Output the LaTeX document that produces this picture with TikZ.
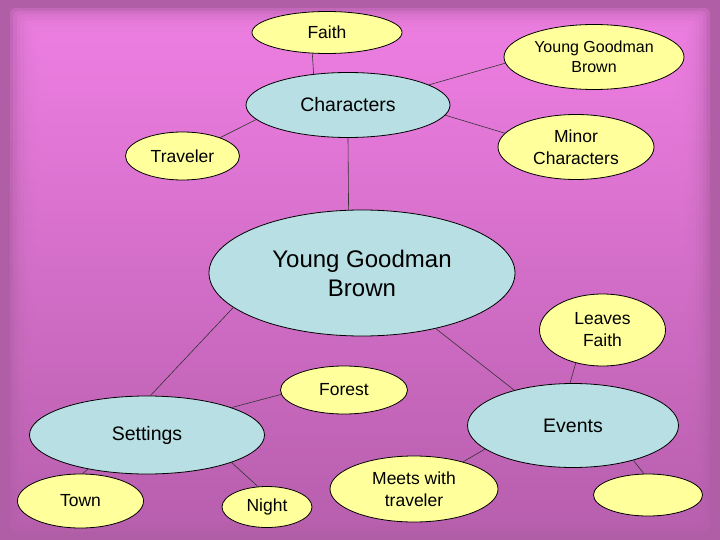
\documentclass[tikz,border=0pt]{standalone}
\usepackage{fontspec}
\setmainfont{Liberation Sans}
\usetikzlibrary{shapes.geometric}
\definecolor{frame}{HTML}{B05EA6}
\definecolor{pinktop}{HTML}{F080E4}
\definecolor{pinkbot}{HTML}{BC62B2}
\definecolor{bubyel}{HTML}{FFFF9C}
\definecolor{bubblue}{HTML}{B8DFE3}
\begin{document}
\begin{tikzpicture}[x=1pt, y=-1pt,
    bub/.style ={draw=black, line width=0.8pt, ellipse, inner sep=0pt, align=center},
    ybub/.style={bub, fill=bubyel, font=\fontsize{17.5}{22}\selectfont},
    bbub/.style={bub, fill=bubblue, font=\fontsize{19.5}{24}\selectfont},
    link/.style={draw=black!80, line width=0.6pt},
  ]
  \useasboundingbox (0,0) rectangle (720,540);
  % background frame
  \fill[frame] (0,0) rectangle (720,540);
  \foreach \i in {0,...,9}{
    \shade[top color=pinktop, bottom color=pinkbot, opacity=0.3, rounded corners=5pt]
      ({10+3.5*\i},{8+3*\i}) rectangle ({710-3.5*\i},{532-3*\i});
  }
  % characters branch
  \node[bbub, minimum width=204, minimum height=65] (chars) at (348,105) {Characters};
  \node[ybub, minimum width=150, minimum height=42] (faith) at (327,32.5) {Faith};
  \node[ybub, minimum width=180, minimum height=65, font=\fontsize{16}{20}\selectfont] (ygbtop) at (594,57) {Young Goodman\\Brown};
  \node[ybub, minimum width=156, minimum height=65] (minor) at (576,147) {Minor\\Characters};
  \node[ybub, minimum width=114, minimum height=48] (trav) at (182.5,156) {Traveler};
  % centre
  \node[bbub, minimum width=306, minimum height=126, font=\fontsize{24}{29}\selectfont] (ygb) at (362,273) {Young Goodman\\Brown};
  % settings branch
  \node[bbub, minimum width=235, minimum height=78] (set) at (147,435) {Settings};
  \node[ybub, minimum width=127, minimum height=48] (forest) at (344,390) {Forest};
  \node[ybub, minimum width=126, minimum height=54] (town) at (80.5,501) {Town};
  \node[ybub, minimum width=90, minimum height=41] (night) at (267,507) {Night};
  % events branch
  \node[bbub, minimum width=211, minimum height=84] (events) at (573,425.5) {Events};
  \node[ybub, minimum width=126, minimum height=72] (leaves) at (602.5,330) {Leaves\\Faith};
  \node[ybub, minimum width=168, minimum height=66] (meets) at (414,489) {Meets with\\traveler};
  \node[ybub, minimum width=109, minimum height=42] (blank) at (648,495) {};
  % links
  \draw[link] (faith.235) -- (chars.138);
  \draw[link] (chars.14) -- (ygbtop.184);
  \draw[link] (chars.354) -- (minor.169);
  \draw[link] (chars.189) -- (trav.26);
  \draw[link] (chars.south) -- (ygb.102.5);
  \draw[link] (ygb.195) -- (set.85);
  \draw[link] (ygb.323) -- (events.149);
  \draw[link] (forest.184.5) -- (set.18);
  \draw[link] (leaves.231) -- (events.94);
  \draw[link] (set.210) -- (town.86);
  \draw[link] (set.342.5) -- (night.114);
  \draw[link] (events.195) -- (meets.29);
  \draw[link] (events.330) -- (blank.101);
\end{tikzpicture}
\end{document}
